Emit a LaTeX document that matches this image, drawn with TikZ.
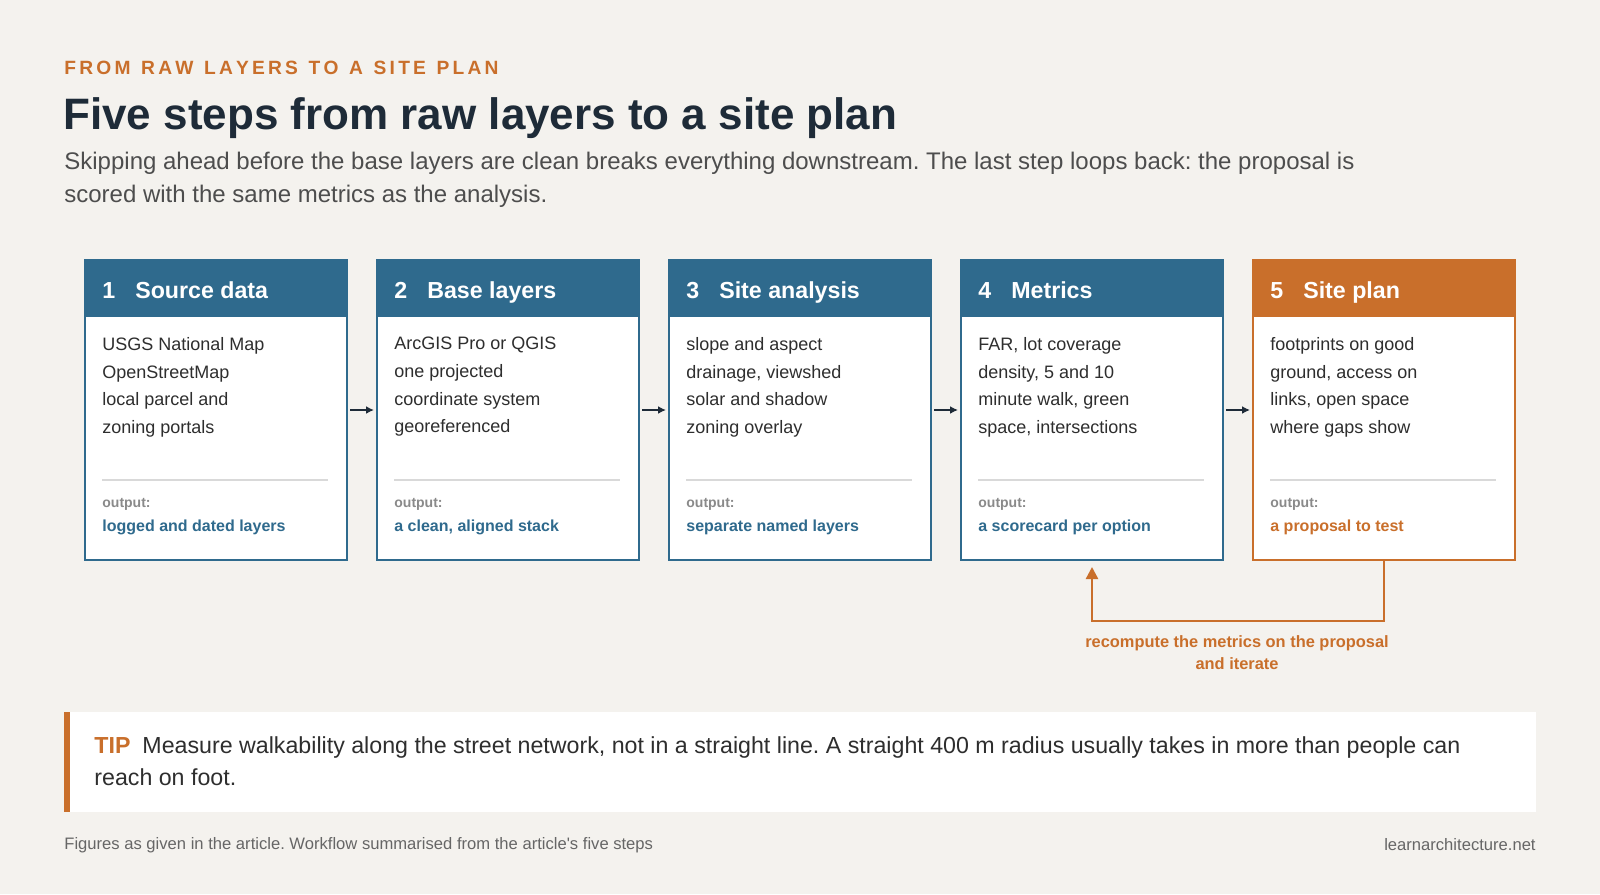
\documentclass[tikz,border=0pt]{standalone}
\usepackage{fontspec}
\setmainfont{Liberation Sans}
\frenchspacing
\usetikzlibrary{positioning,arrows.meta}
\definecolor{stepblue}{HTML}{2F6A8D}
\definecolor{steporange}{HTML}{C96F2B}
\definecolor{paper}{HTML}{F4F2EE}
\definecolor{ink}{HTML}{1E2B38}
\definecolor{bodytext}{HTML}{2E2E2E}
\definecolor{muted}{HTML}{8A8A8A}

\begin{document}
\begin{tikzpicture}[x=0.5pt, y=-0.5pt]
  \tikzset{
    box/.style={draw=#1, line width=1pt, fill=white, minimum width=131pt, minimum height=150pt, anchor=north west, inner sep=0pt},
    head/.style={fill=#1, minimum width=131pt, minimum height=29pt, anchor=north west, inner sep=0pt},
    headtext/.style={text=white, font=\fontsize{11.6}{13}\selectfont\bfseries, anchor=base west, inner sep=0pt},
    body/.style={text=bodytext, font=\fontsize{9}{13.8}\selectfont, align=left, anchor=north west, inner sep=0pt},
    outlabel/.style={text=muted, font=\fontsize{7}{8}\selectfont\bfseries, anchor=west, inner sep=0pt},
    outvalue/.style={text=#1, font=\fontsize{8}{9}\selectfont\bfseries, anchor=west, inner sep=0pt},
    flow/.style={-{Latex[length=4pt,width=4pt]}, line width=0.8pt, draw=ink, shorten <=1pt, shorten >=1pt}
  }
  \fill[paper] (0,0) rectangle (1600,894);
  \useasboundingbox (0,0) rectangle (1600,894);
  % heading
  \node[anchor=west, inner sep=0pt, text=steporange, font=\fontsize{9.6}{11}\selectfont\bfseries] (kicker) at (64,68)
    {F\,R\,O\,M\ \ R\,A\,W\ \ L\,A\,Y\,E\,R\,S\ \ T\,O\ \ A\ \ S\,I\,T\,E\ \ P\,L\,A\,N};
  \node[anchor=west, inner sep=0pt, text=ink, font=\fontsize{22}{25}\selectfont\bfseries] (title) at (63,118)
    {Five steps from raw layers to a site plan};
  \node[anchor=north west, inner sep=0pt, text=bodytext!85, align=left, font=\fontsize{12}{16.4}\selectfont] (sub) at (64,152)
    {Skipping ahead before the base layers are clean breaks everything downstream. The last step loops back: the proposal is\\scored with the same metrics as the analysis.};
  % steps
  \foreach \i/\name/\lines/\result/\col in {
    1/Source data/{USGS National Map\\OpenStreetMap\\local parcel and\\zoning portals}/logged and dated layers/stepblue,
    2/Base layers/{ArcGIS Pro or QGIS\\one projected\\coordinate system\\georeferenced}/{a clean, aligned stack}/stepblue,
    3/Site analysis/{slope and aspect\\drainage, viewshed\\solar and shadow\\zoning overlay}/separate named layers/stepblue,
    4/Metrics/{FAR, lot coverage\\density, 5 and 10\\minute walk, green\\space, intersections}/a scorecard per option/stepblue,
    5/Site plan/{footprints on good\\ground, access on\\links, open space\\where gaps show}/a proposal to test/steporange} {
    \pgfmathsetmacro{\x}{84+(\i-1)*292}
    \node[box=\col] (step-\i) at (\x,259) {};
    \node[head=\col] (head-\i) at (\x,259) {};
    \node[headtext] at (\x+18,298) {\i\hspace{10pt}\name};
    \node[body] (body-\i) at (\x+18,337) {\lines};
    \draw[black!15, line width=0.8pt] (\x+18,480) -- (\x+244,480);
    \node[outlabel] (out-\i) at (\x+18,504) {output:};
    \node[outvalue=\col] (res-\i) at (\x+18,527) {\result};
  }
  \foreach \i [evaluate=\i as \j using int(\i+1)] in {1,...,4}
    \draw[flow] (step-\i.east) -- (step-\j.west);
  % loop back
  \draw[steporange, line width=1.2pt, -{Triangle[length=6pt,width=6pt]}]
    (step-5.south) -- ++(0,60) -| ([yshift=-3pt]step-4.south);
  \node[text=steporange, font=\fontsize{8.2}{11}\selectfont\bfseries, align=center] (loop-label) at (1237,653)
    {recompute the metrics on the proposal\\and iterate};
  % tip
  \fill[white] (64,712) rectangle (1536,812);
  \fill[steporange] (64,712) rectangle (70,812);
  \node[anchor=north west, inner sep=0pt, text=bodytext, align=left, font=\fontsize{11.6}{16}\selectfont] (tip) at (94,736)
    {\textcolor{steporange}{\bfseries TIP}\hspace{6pt}Measure walkability along the street network, not in a straight line. A straight 400 m radius usually takes in more than people can\\reach on foot.};
  % footer
  \node[anchor=west, inner sep=0pt, text=black!60, font=\fontsize{8.3}{10}\selectfont] (source) at (64,845)
    {Figures as given in the article. Workflow summarised from the article\textquotesingle s five steps};
  \node[anchor=east, inner sep=0pt, text=black!60, font=\fontsize{8.3}{10}\selectfont] (site) at (1536,845)
    {learnarchitecture.net};
\end{tikzpicture}
\end{document}
